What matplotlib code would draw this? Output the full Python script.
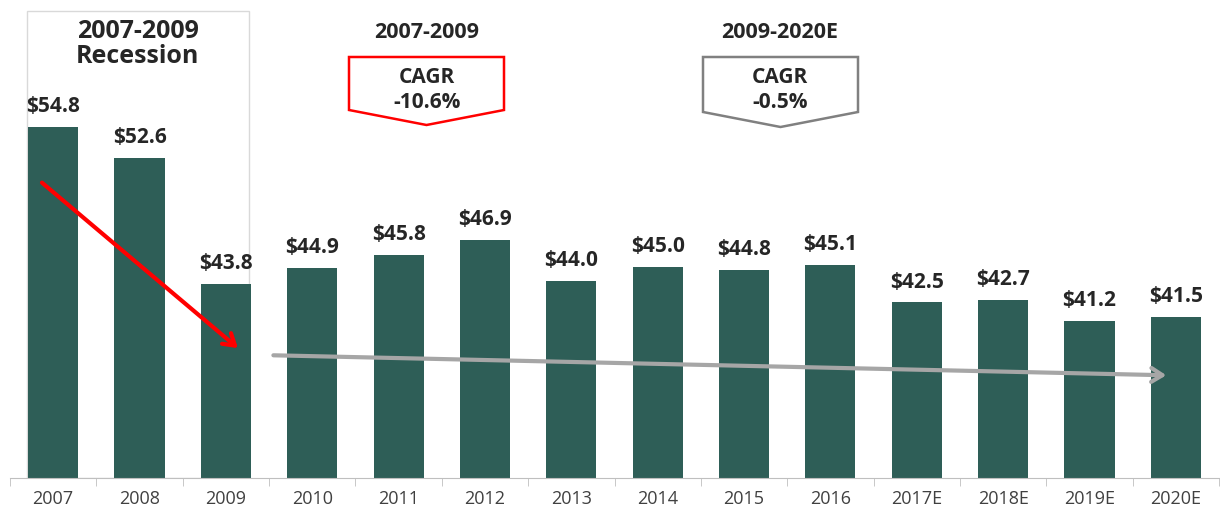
import matplotlib.pyplot as plt
from matplotlib.patches import Rectangle, Polygon, FancyArrowPatch
import numpy as np

plt.rcParams['font.family'] = ['Open Sans', 'DejaVu Sans']

years = ['2007', '2008', '2009', '2010', '2011', '2012', '2013', '2014',
         '2015', '2016', '2017E', '2018E', '2019E', '2020E']
values = [54.8, 52.6, 43.8, 44.9, 45.8, 46.9, 44.0, 45.0, 44.8, 45.1,
          42.5, 42.7, 41.2, 41.5]

W, H = 1220, 514
bar_color = '#2E5E57'
text_color = '#262626'

fig = plt.figure(figsize=(W / 100, H / 100), dpi=100)
ax = fig.add_axes([10 / W, 36 / H, 1209 / W, 478 / H])

x = np.arange(len(years))
ax.bar(x, values, width=0.58, color=bar_color, zorder=2)
for xi, v in zip(x, values):
    ax.text(xi, v + 0.7, f'${v:.1f}', ha='center', va='bottom',
            fontsize=15, fontweight='bold', color=text_color)

ax.set_xlim(-0.5, len(years) - 0.5)
ax.set_ylim(30.2, 63.7)
ax.set_xticks(x)
ax.set_xticklabels(years, fontsize=13, color='#404040')
ax.set_xticks(np.arange(-0.5, len(years), 1), minor=True)
ax.tick_params(axis='x', which='major', length=0, pad=9)
ax.tick_params(axis='x', which='minor', length=6, color='#BFBFBF', direction='out')
ax.set_yticks([])
for s in ['top', 'right', 'left']:
    ax.spines[s].set_visible(False)
ax.spines['bottom'].set_color('#BFBFBF')

# recession box
ax.add_patch(Rectangle((-0.3, 30.2), 2.57, 32.7, fill=False,
                       edgecolor='#D9D9D9', lw=1, zorder=1))
ax.text(0.98, 62.4, '2007-2009\nRecession', ha='center', va='top',
        fontsize=18, fontweight='bold', color=text_color, linespacing=1.05)

# trend arrows
ax.add_patch(FancyArrowPatch((-0.13, 50.9), (2.14, 39.3), arrowstyle='->,head_length=8,head_width=5',
                             color='#FF0000', lw=3, zorder=3, shrinkA=0, shrinkB=0))
ax.add_patch(FancyArrowPatch((2.55, 38.8), (12.89, 37.4), arrowstyle='->,head_length=8,head_width=5',
                             color='#A6A6A6', lw=3, zorder=3, shrinkA=0, shrinkB=0))


def pentagon(x0, x1, y0, y1, ytip, color):
    xm = (x0 + x1) / 2
    pts = [(x0, y0), (x1, y0), (x1, y1), (xm, ytip), (x0, y1)]
    pts = [(px / W, 1 - py / H) for px, py in pts]
    fig.add_artist(Polygon(pts, closed=True, facecolor='white', edgecolor=color,
                           lw=1.8, transform=fig.transFigure))


pentagon(349, 504, 57, 110, 125, '#FF0000')
pentagon(703, 858, 57, 112, 127, '#808080')

fig.text(427 / W, 1 - 32 / H, '2007-2009', ha='center', va='center',
         fontsize=15.5, fontweight='bold', color=text_color)
fig.text(780 / W, 1 - 32 / H, '2009-2020E', ha='center', va='center',
         fontsize=15.5, fontweight='bold', color=text_color)
fig.text(427 / W, 1 - 90 / H, 'CAGR\n-10.6%', ha='center', va='center',
         fontsize=15, fontweight='bold', color=text_color, linespacing=1.2)
fig.text(780 / W, 1 - 90 / H, 'CAGR\n-0.5%', ha='center', va='center',
         fontsize=15, fontweight='bold', color=text_color, linespacing=1.2)

fig.savefig('out.png', dpi=100)
